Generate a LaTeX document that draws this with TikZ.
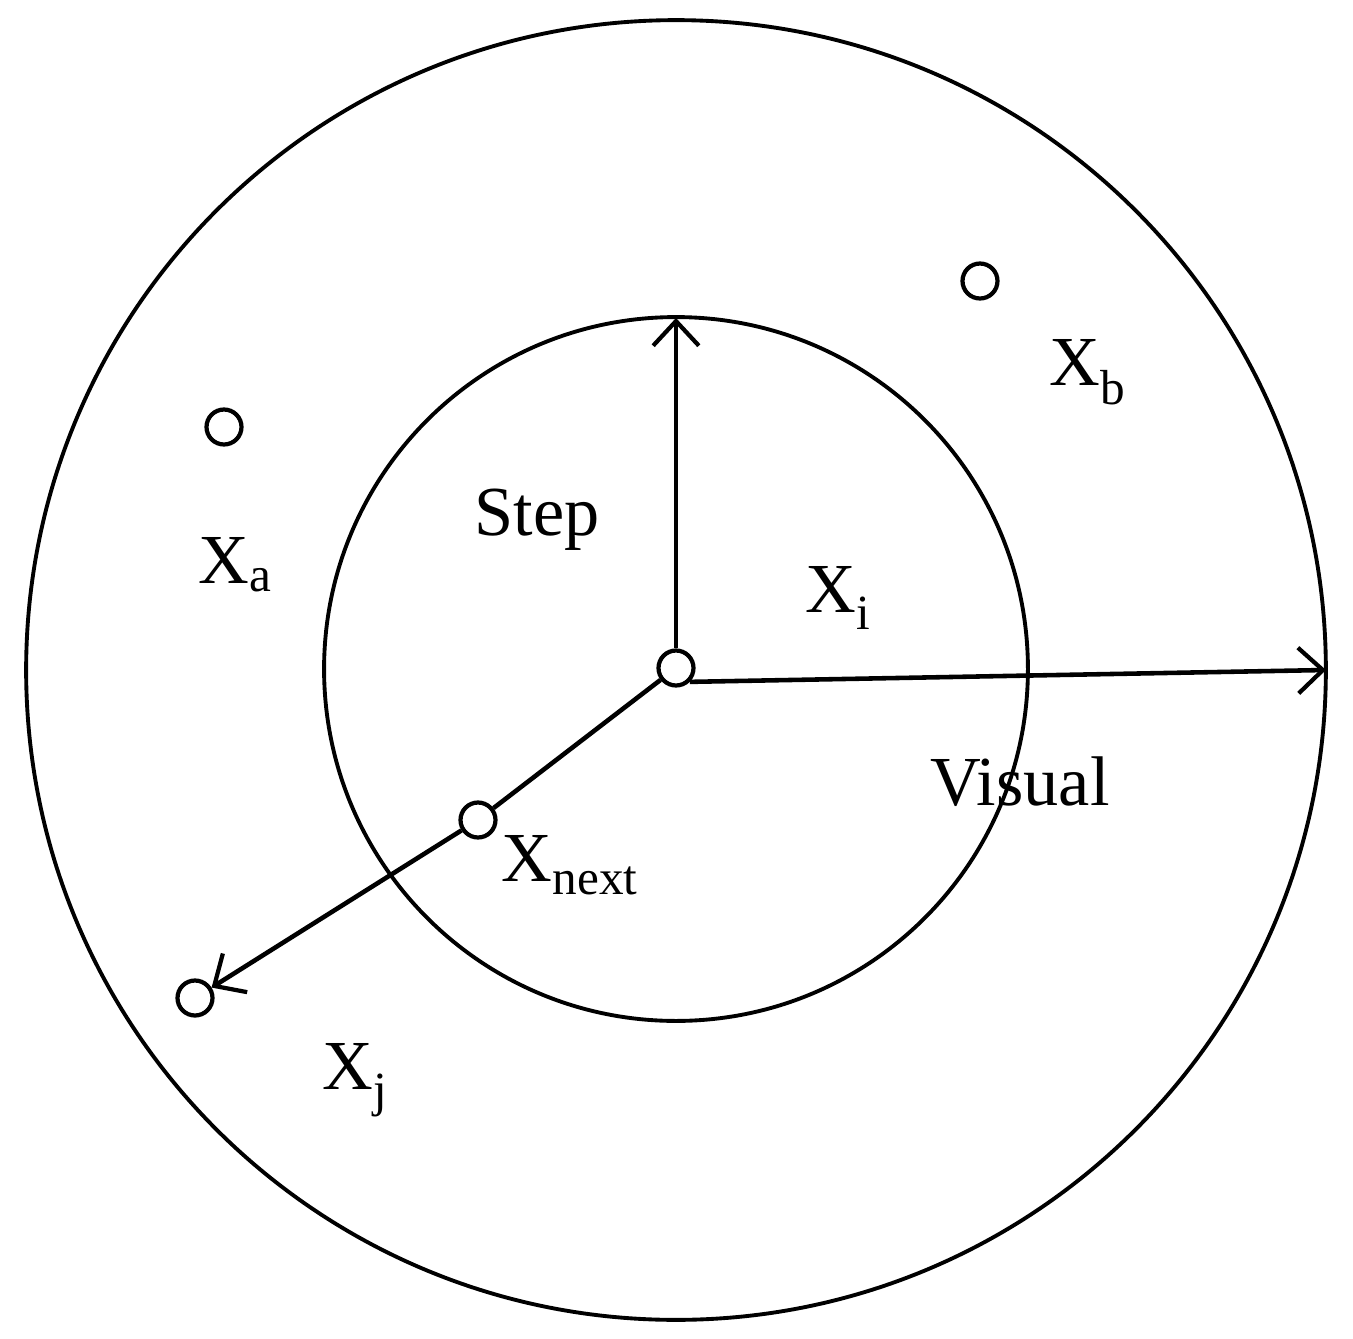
\documentclass[tikz,border=0pt]{standalone}
\usepackage{fontspec}
\setmainfont{Liberation Serif}
\usetikzlibrary{arrows.meta}
\begin{document}
\begin{tikzpicture}[x=0.02cm,y=-0.02cm,line width=2.6pt,
  pt/.style={circle,draw,fill=white,inner sep=0pt,minimum size=0.7cm,line width=2.4pt},
  lbl/.style={font=\fontsize{40}{48}\selectfont},
  arr/.style={-{Straight Barb[length=14pt,width=26pt,line width=2.4pt]}}]
\useasboundingbox (0,0) rectangle (1353,1339);
\node[draw,circle,minimum size=26cm,line width=2.2pt] (outer) at (676,670) {};
\node[draw,circle,minimum size=14.08cm,line width=2.2pt] (inner) at (676,669) {};
\coordinate (top) at (676,318);
\coordinate (right) at (1326,670);
\node[pt] (xi) at (676,668) {};
\node[pt] (xn) at (478,820) {};
\node[pt] (xj) at (195,998) {};
\node[pt] (xa) at (224,427) {};
\node[pt] (xb) at (980,281) {};
\draw[arr] (xi) -- (top);
\draw[arr] (xi.south east) -- (right);
\draw (xi) -- (xn);
\draw[arr] (xn) -- (xj);
\node[lbl] at (537,520) {Step};
\node[lbl] at (1020,782) {Visual};
\node[lbl] at (838,598) {X\textsubscript{i}};
\node[lbl] at (235,565) {X\textsubscript{a}};
\node[lbl] at (1088,372) {X\textsubscript{b}};
\node[lbl] at (570,865) {X\textsubscript{next}};
\node[lbl] at (355,1080) {X\textsubscript{j}};
\end{tikzpicture}
\end{document}
